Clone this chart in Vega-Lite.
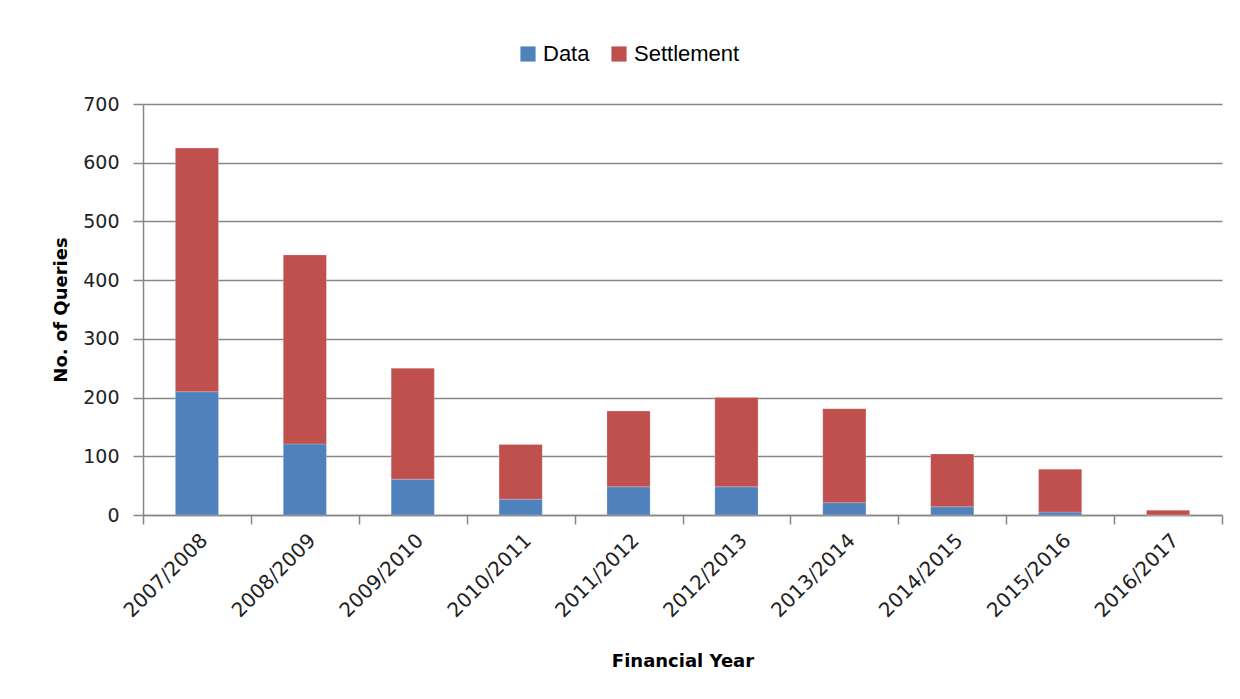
{
  "$schema": "https://vega.github.io/schema/vega-lite/v6.json",
  "autosize": "none",
  "width": 1079,
  "height": 411,
  "padding": {"left": 143, "top": 104, "right": 18, "bottom": 184},
  "background": "white",
  "config": {
    "view": {"stroke": null},
    "font": "DejaVu Sans"
  },
  "data": {
    "values": [
      {"year": "2007/2008", "type": "Data", "value": 210},
      {"year": "2007/2008", "type": "Settlement", "value": 415},
      {"year": "2008/2009", "type": "Data", "value": 121},
      {"year": "2008/2009", "type": "Settlement", "value": 322},
      {"year": "2009/2010", "type": "Data", "value": 61},
      {"year": "2009/2010", "type": "Settlement", "value": 189},
      {"year": "2010/2011", "type": "Data", "value": 27},
      {"year": "2010/2011", "type": "Settlement", "value": 93},
      {"year": "2011/2012", "type": "Data", "value": 48},
      {"year": "2011/2012", "type": "Settlement", "value": 129},
      {"year": "2012/2013", "type": "Data", "value": 48},
      {"year": "2012/2013", "type": "Settlement", "value": 152},
      {"year": "2013/2014", "type": "Data", "value": 21},
      {"year": "2013/2014", "type": "Settlement", "value": 160},
      {"year": "2014/2015", "type": "Data", "value": 14},
      {"year": "2014/2015", "type": "Settlement", "value": 90},
      {"year": "2015/2016", "type": "Data", "value": 5},
      {"year": "2015/2016", "type": "Settlement", "value": 73},
      {"year": "2016/2017", "type": "Data", "value": 0},
      {"year": "2016/2017", "type": "Settlement", "value": 8}
    ]
  },
  "mark": {"type": "bar", "width": {"band": 0.4}, "stroke": "white", "strokeOpacity": 0.4, "strokeWidth": 0.5},
  "encoding": {
    "x": {
      "field": "year",
      "type": "nominal",
      "sort": null,
      "scale": {"paddingInner": 0, "paddingOuter": 0},
      "axis": {
        "title": "Financial Year",
        "titleFont": "DejaVu Sans",
        "titleFontWeight": "bold",
        "titleFontSize": 18,
        "titleColor": "black",
        "titlePadding": 32,
        "labelAngle": -45,
        "labelFontSize": 20,
        "labelColor": "#222222",
        "labelPadding": 6,
        "tickBand": "extent",
        "tickSize": 9,
        "tickColor": "#878787",
        "domainColor": "#878787",
        "domainWidth": 1.5,
        "tickWidth": 1.5
      }
    },
    "y": {
      "field": "value",
      "type": "quantitative",
      "stack": "zero",
      "scale": {"domain": [0, 700], "nice": false},
      "axis": {
        "title": "No. of Queries",
        "titleFontWeight": "bold",
        "titleFontSize": 18,
        "titleColor": "black",
        "titlePadding": 12,
        "values": [0, 100, 200, 300, 400, 500, 600, 700],
        "labelFontSize": 19,
        "labelColor": "#222222",
        "labelPadding": 14,
        "tickSize": 10,
        "tickColor": "#878787",
        "tickWidth": 1.5,
        "gridColor": "#878787",
        "gridWidth": 1.5,
        "domainColor": "#878787",
        "domainWidth": 1.5
      }
    },
    "color": {
      "field": "type",
      "type": "nominal",
      "scale": {"domain": ["Data", "Settlement"], "range": ["#4F81BD", "#C0504D"]},
      "legend": {
        "title": null,
        "orient": "none",
        "direction": "horizontal",
        "legendX": 374,
        "legendY": -61,
        "symbolType": "square",
        "symbolSize": 230,
        "symbolStrokeWidth": 0,
        "labelFontSize": 22,
        "labelFont": "Liberation Sans",
        "labelColor": "black",
        "labelOffset": 4,
        "columnPadding": 18
      }
    },
    "order": {"field": "type", "sort": "ascending"}
  }
}
